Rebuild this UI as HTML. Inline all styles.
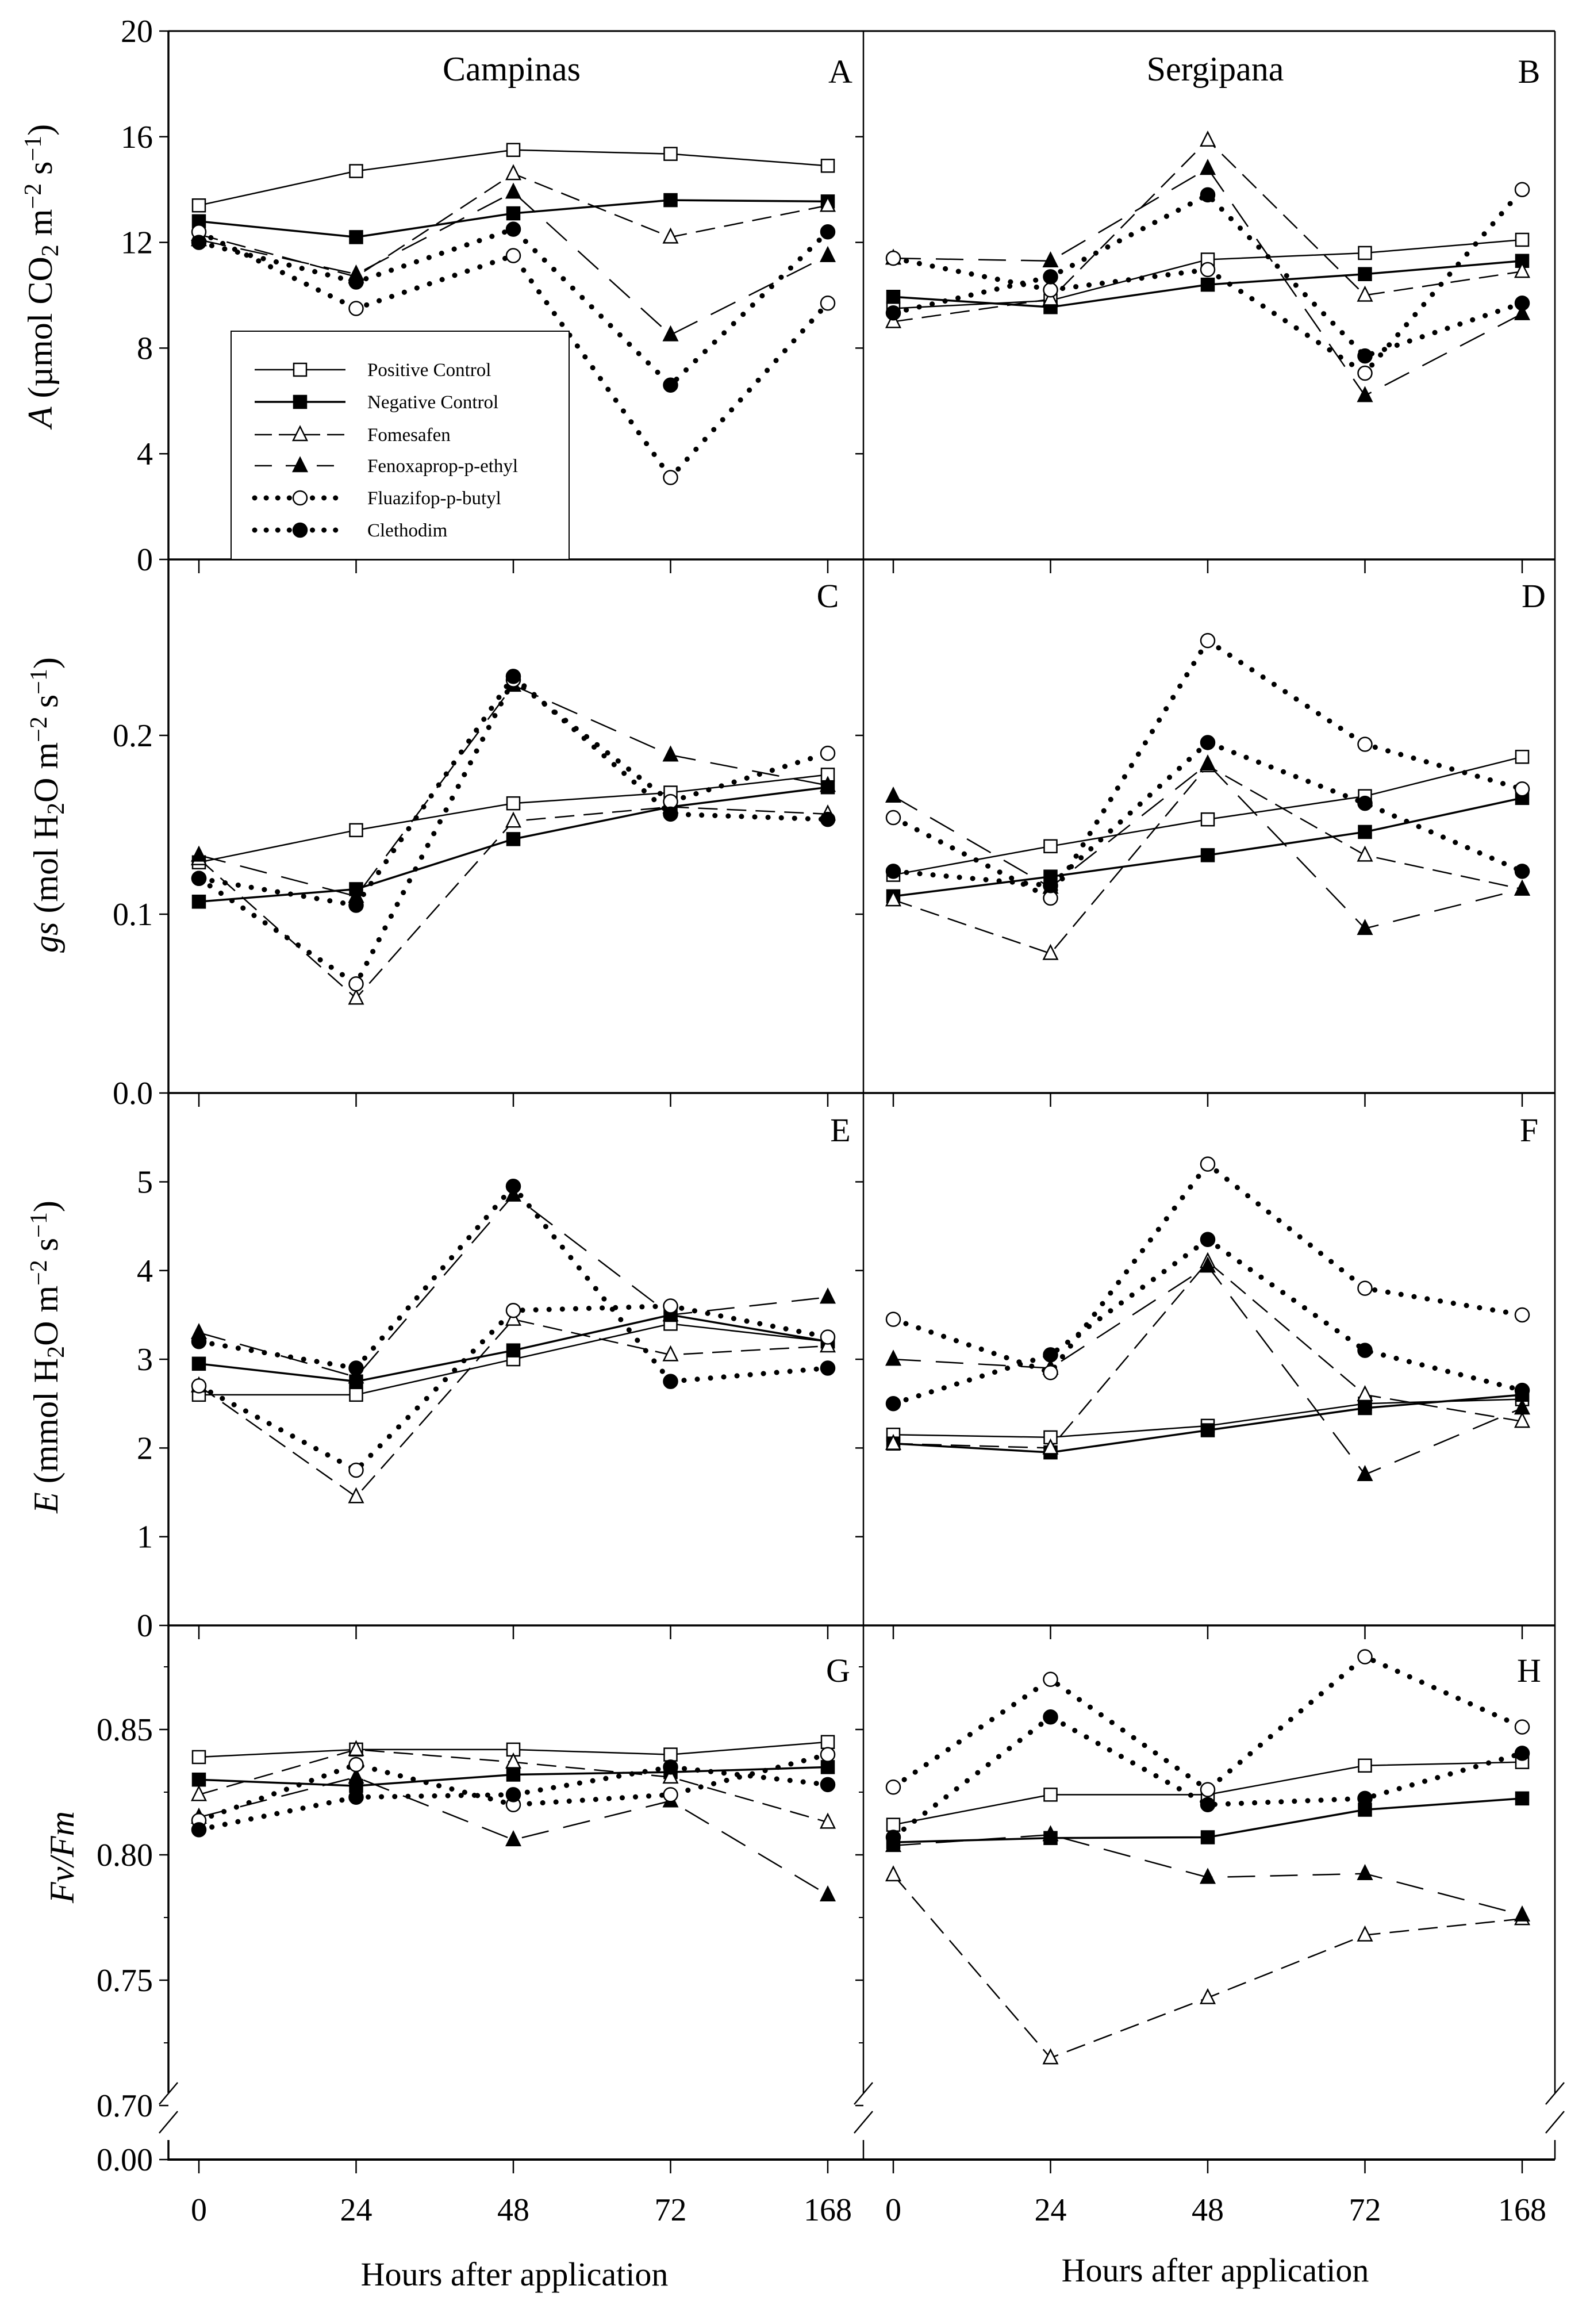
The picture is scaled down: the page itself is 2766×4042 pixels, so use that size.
<!DOCTYPE html>
<html><head><meta charset="utf-8">
<style>
html,body{margin:0;padding:0;background:#fff;}
svg{display:block;font-family:"Liberation Serif",serif;}
</style></head>
<body>
<svg id="fig" width="2766" height="4042" viewBox="0 0 2766 4042" xmlns="http://www.w3.org/2000/svg"></svg>
<script>
const hours = ["0","24","48","72","168"];
const seriesNames = ["Positive Control","Negative Control","Fomesafen","Fenoxaprop-p-ethyl","Fluazifop-p-butyl","Clethodim"];
const aPos=[13.4,14.7,15.5,15.35,14.9];
const aNeg=[12.8,12.2,13.1,13.6,13.55];
const aFom=[12.3,10.7,14.6,12.2,13.4];
const aFen=[12.1,10.8,13.9,8.5,11.5];
const aFlu=[12.4,9.5,11.5,3.1,9.7];
const aCle=[12.0,10.5,12.5,6.6,12.4];
const bPos=[9.5,9.8,11.35,11.6,12.1];
const bNeg=[9.94,9.55,10.4,10.8,11.3];
const bFom=[9.0,9.85,15.87,10.0,10.9];
const bFen=[11.4,11.3,14.8,6.2,9.3];
const bFlu=[11.4,10.2,10.97,7.05,14.0];
const bCle=[9.33,10.7,13.8,7.7,9.7];
const cPos=[0.129,0.147,0.162,0.168,0.178];
const cNeg=[0.107,0.114,0.142,0.160,0.171];
const cFom=[0.131,0.053,0.152,0.160,0.156];
const cFen=[0.133,0.110,0.228,0.189,0.172];
const cFlu=[0.120,0.061,0.231,0.163,0.190];
const cCle=[0.120,0.105,0.233,0.156,0.153];
const dPos=[0.122,0.138,0.153,0.166,0.188];
const dNeg=[0.110,0.121,0.133,0.146,0.165];
const dFom=[0.108,0.078,0.183,0.133,0.114];
const dFen=[0.166,0.115,0.184,0.092,0.114];
const dFlu=[0.154,0.109,0.253,0.195,0.170];
const dCle=[0.124,0.116,0.196,0.162,0.124];
const ePos=[2.6,2.6,3.0,3.4,3.2];
const eNeg=[2.95,2.75,3.1,3.5,3.2];
const eFom=[2.7,1.45,3.45,3.05,3.15];
const eFen=[3.3,2.8,4.85,3.5,3.7];
const eFlu=[2.7,1.75,3.55,3.6,3.25];
const eCle=[3.2,2.9,4.95,2.75,2.9];
const fPos=[2.15,2.12,2.25,2.5,2.55];
const fNeg=[2.05,1.95,2.2,2.45,2.6];
const fFom=[2.05,2.0,4.1,2.6,2.3];
const fFen=[3.0,2.9,4.05,1.7,2.45];
const fFlu=[3.45,2.85,5.2,3.8,3.5];
const fCle=[2.5,3.05,4.35,3.1,2.65];
const gPos=[0.839,0.842,0.842,0.840,0.845];
const gNeg=[0.830,0.8275,0.832,0.833,0.835];
const gFom=[0.824,0.842,0.837,0.831,0.813];
const gFen=[0.815,0.831,0.806,0.8215,0.784];
const gFlu=[0.8137,0.836,0.820,0.824,0.840];
const gCle=[0.810,0.823,0.824,0.835,0.828];
const hPos=[0.812,0.824,0.824,0.8356,0.837];
const hNeg=[0.805,0.8067,0.807,0.818,0.8225];
const hFom=[0.792,0.719,0.743,0.768,0.7745];
const hFen=[0.8037,0.808,0.791,0.7925,0.776];
const hFlu=[0.827,0.870,0.826,0.879,0.851];
const hCle=[0.807,0.855,0.820,0.8225,0.8405];
const aTicks=[0,4,8,12,16,20];
const cTicks=[0,0.1,0.2];
const cTickLabels=["0.0","0.1","0.2"];
const eTicks=[0,1,2,3,4,5];
const gTicks=[0.70,0.75,0.80,0.85];
const gTickLabels=["0.70","0.75","0.80","0.85"];

const NS="http://www.w3.org/2000/svg";
const svg=document.getElementById('fig');
function mk(tag,attrs,parent){const e=document.createElementNS(NS,tag);for(const k in attrs)e.setAttribute(k,attrs[k]);(parent||svg).appendChild(e);return e;}

const leftX=[346,620,893,1167,1440];
const rightX=[1554,1828,2101,2375,2648];
function xL(i){return 346+i*273.5;}
function xR(i){return 1554+i*273.5;}
const yA=v=>973-v*45.95;
const yC=v=>1901-v*3110;
const yE=v=>2827-v*154.3;
const yG=v=>3008-(v-0.85)*4360;

const styles=[
 {dash:"",w:2.5,m:"sq",fill:"#fff"},
 {dash:"",w:3.5,m:"sq",fill:"#000"},
 {dash:"34 16",w:2.5,m:"tri",fill:"#fff"},
 {dash:"48 26",w:2.5,m:"tri",fill:"#000"},
 {dash:"0.1 23",w:9,m:"circ",fill:"#fff",cap:"round"},
 {dash:"0.1 23",w:9,m:"circ",fill:"#000",cap:"round"}
];
const slug=["positive-control","negative-control","fomesafen","fenoxaprop","fluazifop","clethodim"];

function marker(g,type,fill,x,y){
  let e;
  if(type==="sq") e=mk('rect',{x:x-11,y:y-11,width:22,height:22,fill:fill,stroke:"#000","stroke-width":2.5},g);
  else if(type==="tri") e=mk('polygon',{points:`${x},${y-14} ${x-12},${y+10} ${x+12},${y+10}`,fill:fill,stroke:"#000","stroke-width":2.5},g);
  else e=mk('circle',{cx:x,cy:y,r:12,fill:fill,stroke:"#000","stroke-width":2.5},g);
  return e;
}

function drawSeries(panel,xs,yf,data){
  const g=mk('g',{});
  
  
  data.forEach((vals,si)=>{
    const st=styles[si];
    const sg=mk('g',{},g);
    
    
    const pts=vals.map((v,i)=>`${xs(i)},${yf(v)}`).join(' ');
    const pl=mk('polyline',{points:pts,fill:"none",stroke:"#000","stroke-width":st.w,"stroke-dasharray":st.dash,"stroke-linecap":st.cap||"butt"},sg);
    
    
  });
  data.forEach((vals,si)=>{
    const st=styles[si];
    vals.forEach((v,i)=>{
      const m=marker(g,st.m,st.fill,xs(i),yf(v));
      
      
    });
  });
}

function text(str,x,y,size,anchor,extra){
  const t=mk('text',Object.assign({x:x,y:y,"font-size":size,"text-anchor":anchor||"middle",fill:"#000"},extra||{}));
  t.textContent=str;return t;
}

const L=293,M=1502,R=2705;
function line(x1,y1,x2,y2,w,name){const l=mk('line',{x1,y1,x2,y2,stroke:"#000","stroke-width":w});return l;}
line(L,54,R,54,3,'top-border');
line(R,54,R,3640,2.5,'right-border');
line(R,3722,R,3756,2.5,'right-border-bottom');
line(L,54,L,3640,3.5,'left-axis');
line(L,3722,L,3758,3.5,'left-axis-bottom');
line(M,54,M,3640,2.5,'middle-axis');
line(M,3722,M,3758,2.5,'middle-axis-bottom');
[973,1901,2827].forEach((y,i)=>line(L,y,R,y,3.5,'panel-divider-'+i));
line(L,3756,R,3756,4,'x-axis-bottom');
[L,M,R].forEach((x,i)=>{
  line(x-16,3660,x+16,3622,2.5,'axis-break-mark');
  line(x-16,3710,x+16,3672,2.5,'axis-break-mark');
});
[973,1901,2827,3756].forEach(y=>{
  leftX.forEach((x,i)=>line(xL(i),y,xL(i),y+24,2.5,'x-tick'));
  rightX.forEach((x,i)=>line(xR(i),y,xR(i),y+24,2.5,'x-tick'));
});
function yticks(vals,yf,labels){
  vals.forEach((v,i)=>{
    const y=yf(v);
    line(L-16,y,L,y,2.5,'y-tick');
    line(M-14,y,M,y,2.5,'y-tick');
    if(labels){const t=text(labels[i],266,y+19,56,"end");}
  });
}
yticks(aTicks,yA,aTicks.map(String));
yticks(cTicks,yC,cTickLabels);
yticks(eTicks,yE,eTicks.map(String));
yticks(gTicks,yG,gTickLabels);
line(L-16,3756,L,3756,2.5,'y-tick');
{const t=text("0.00",266,3775,56,"end");}
[0.725,0.775,0.825,0.875].forEach(v=>{line(L-8,yG(v),L,yG(v),2,'y-minor-tick');line(M-8,yG(v),M,yG(v),2,'y-minor-tick');});

drawSeries('panel-a',xL,yA,[aPos,aNeg,aFom,aFen,aFlu,aCle]);
drawSeries('panel-b',xR,yA,[bPos,bNeg,bFom,bFen,bFlu,bCle]);
drawSeries('panel-c',xL,yC,[cPos,cNeg,cFom,cFen,cFlu,cCle]);
drawSeries('panel-d',xR,yC,[dPos,dNeg,dFom,dFen,dFlu,dCle]);
drawSeries('panel-e',xL,yE,[ePos,eNeg,eFom,eFen,eFlu,eCle]);
drawSeries('panel-f',xR,yE,[fPos,fNeg,fFom,fFen,fFlu,fCle]);
drawSeries('panel-g',xL,yG,[gPos,gNeg,gFom,gFen,gFlu,gCle]);
drawSeries('panel-h',xR,yG,[hPos,hNeg,hFom,hFen,hFlu,hCle]);

[["A",1462,144],["B",2660,144],["C",1440,1056],["D",2668,1056],["E",1462,1985],["F",2660,1985],["G",1458,2925],["H",2660,2925]].forEach(([s,x,y])=>{
  const t=text(s,x,y,58,"middle");
});
{const t=text("Campinas",890,140,60);}
{const t=text("Sergipana",2114,140,60);}

hours.forEach((h,i)=>{
  let t=text(h,xL(i),3862,56);
  t=text(h,xR(i),3862,56);
});
{const t=text("Hours after application",895,3975,58);}
{const t=text("Hours after application",2114,3968,58);}

function ytitle(name,cx,cy,parts){
  const t=mk('text',{x:0,y:0,"font-size":60,"text-anchor":"middle",transform:`translate(${cx},${cy}) rotate(-90)`});
  
  parts.forEach(p=>{const s=mk('tspan',p.a||{},t);s.textContent=p.t;});
}
ytitle('y-axis-title-a',90,480,[{t:"A",a:{"font-style":"italic"}},{t:" (µmol CO"},{t:"2",a:{"baseline-shift":"-25%","font-size":42}},{t:" m"},{t:"−2",a:{"baseline-shift":"45%","font-size":42}},{t:" s"},{t:"−1",a:{"baseline-shift":"45%","font-size":42}},{t:")"}]);
ytitle('y-axis-title-c',100,1400,[{t:"gs",a:{"font-style":"italic"}},{t:" (mol H"},{t:"2",a:{"baseline-shift":"-25%","font-size":42}},{t:"O m"},{t:"−2",a:{"baseline-shift":"45%","font-size":42}},{t:" s"},{t:"−1",a:{"baseline-shift":"45%","font-size":42}},{t:")"}]);
ytitle('y-axis-title-e',100,2360,[{t:"E",a:{"font-style":"italic"}},{t:" (mmol H"},{t:"2",a:{"baseline-shift":"-25%","font-size":42}},{t:"O m"},{t:"−2",a:{"baseline-shift":"45%","font-size":42}},{t:" s"},{t:"−1",a:{"baseline-shift":"45%","font-size":42}},{t:")"}]);
ytitle('y-axis-title-g',128,3230,[{t:"Fv/Fm",a:{"font-style":"italic"}}]);

const lg=mk('g',{});


mk('rect',{x:402,y:576,width:588,height:397,fill:"#fff",stroke:"#000","stroke-width":2},lg);
const legY=[643,699,756,810,866,922];
seriesNames.forEach((n,i)=>{
  const st=styles[i];
  const e=mk('g',{},lg);
  
  
  mk('line',{x1:443,y1:legY[i],x2:601,y2:legY[i],stroke:"#000","stroke-width":st.w,"stroke-dasharray":st.dash==="0.1 23"?"0.1 20":(i===2?"30 12":(i===3?"30 24":"")),"stroke-linecap":st.cap||"butt"},e);
  marker(e,st.m,st.fill,522,legY[i]);
  const t=mk('text',{x:639,y:legY[i]+11,"font-size":33},e);t.textContent=n;
});
</script>
</body></html>
